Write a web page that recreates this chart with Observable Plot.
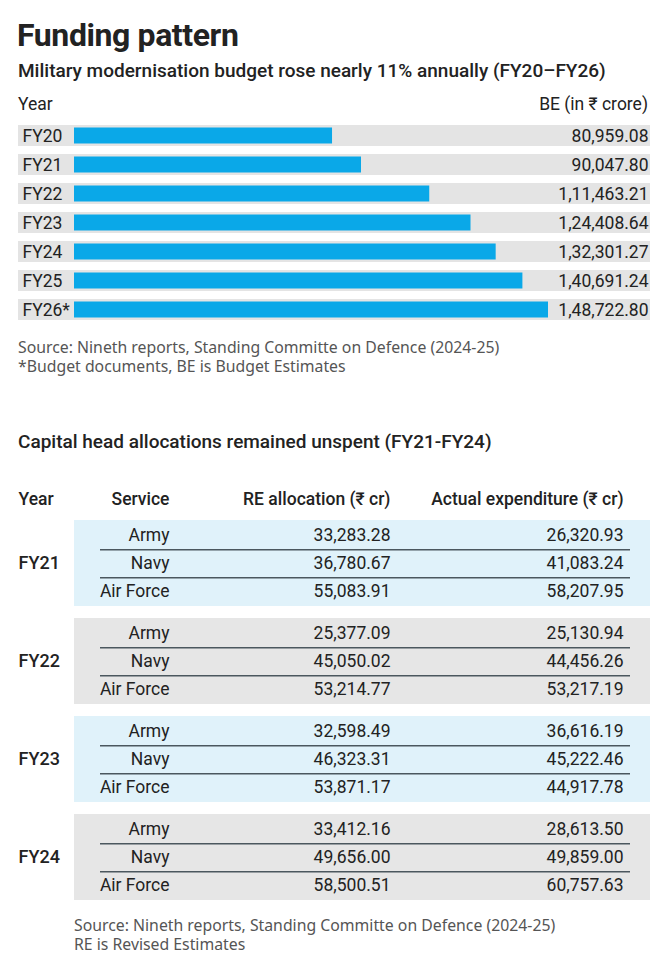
<!DOCTYPE html>
<html><head><meta charset="utf-8">
<script src="https://cdn.jsdelivr.net/npm/d3@7"></script>
<script src="https://cdn.jsdelivr.net/npm/@observablehq/plot@0.6"></script>
<style>
html,body{margin:0;padding:0;background:#fff;overflow:hidden;}
#page{position:relative;width:670px;height:968px;overflow:hidden;font-family:Roboto,"Noto Sans",sans-serif;color:#222;}
.abs{position:absolute;white-space:nowrap;line-height:1;}
.cap{font-family:"Noto Sans",sans-serif;font-size:15.8px;line-height:18.6px;color:#555;}
#bars,#table{position:absolute;left:0;}
#bars{top:110px;} #table{top:478px;}
</style></head>
<body><div id="page">
<div class="abs" style="left:17px;top:19px;font-size:32px;font-weight:700;letter-spacing:-0.4px">Funding pattern</div>
<div class="abs" style="left:18px;top:61px;font-size:19px;font-weight:500">Military modernisation budget rose nearly 11% annually (FY20–FY26)</div>
<div class="abs" style="left:18px;top:96px;font-size:17.5px">Year</div>
<div class="abs" style="right:22px;top:96px;font-size:17.5px">BE (in ₹ crore)</div>
<div id="bars"></div>
<div class="abs cap" style="left:18px;top:338px">Source: Nineth reports, Standing Committe on Defence (2024-25)<br>*Budget documents, BE is Budget Estimates</div>
<div class="abs" style="left:18px;top:432px;font-size:19px;font-weight:500">Capital head allocations remained unspent (FY21-FY24)</div>
<div id="table"></div>
<div class="abs cap" style="left:74px;top:916px">Source: Nineth reports, Standing Committe on Defence (2024-25)<br>RE is Revised Estimates</div>
</div>
<script>
// ---- Data: BE budget (₹ crore)
const budgetYears = ["FY20", "FY21", "FY22", "FY23", "FY24", "FY25", "FY26*"];
const budgetValues = [80959.08, 90047.80, 111463.21, 124408.64, 132301.27, 140691.24, 148722.80];

// ---- Data: capital head allocations (₹ cr)
const tableYears = ["FY21", "FY22", "FY23", "FY24"];
const services = ["Army", "Navy", "Air Force"];
const columns = ["Service", "RE allocation (₹ cr)", "Actual expenditure (₹ cr)"];
const reAllocation = [
  [33283.28, 36780.67, 55083.91],
  [25377.09, 45050.02, 53214.77],
  [32598.49, 46323.31, 53871.17],
  [33412.16, 49656.00, 58500.51]
];
const actualExpenditure = [
  [26320.93, 41083.24, 58207.95],
  [25130.94, 44456.26, 53217.19],
  [36616.19, 45222.46, 44917.78],
  [28613.50, 49859.00, 60757.63]
];

// ---- helpers
function inr(v) {
  const [i, f] = v.toFixed(2).split(".");
  const last3 = i.slice(-3), rest = i.slice(0, -3);
  return (rest ? rest.replace(/\B(?=(\d{2})+(?!\d))/g, ",") + "," : "") + last3 + "." + f;
}
const west = d3.format(",.2f");

const budget = budgetYears.map((year, i) => ({year, value: budgetValues[i]}));
const rows = tableYears.flatMap((year, i) => services.map((service, j) => ({
  year, service, re: reAllocation[i][j], actual: actualExpenditure[i][j]
})));

const BLUE = "#0aa8e8", ROWGRAY = "#e4e4e4";
const BLOCK_BLUE = "#e0f2fa", BLOCK_GRAY = "#e6e6e6";

// ---- Bar chart
const bars = Plot.plot({
  width: 670, height: 225,
  marginLeft: 18, marginRight: 20, marginTop: 4.4, marginBottom: 4.1,
  style: {fontFamily: "Roboto, 'Noto Sans', sans-serif", fontSize: "17.5px", color: "#222", background: "transparent"},
  x: {domain: [0, d3.max(budgetValues)], range: [74, 548], axis: null},
  y: {type: "band", domain: budgetYears, padding: 0.29, axis: null},
  marks: [
    Plot.cell(budget, {y: "year", fill: ROWGRAY, inset: 0}),
    Plot.barX(budget, {x: "value", y: "year", fill: BLUE, insetTop: 2.5, insetBottom: 2.5}),
    Plot.text(budget, {y: "year", text: "year", frameAnchor: "left", textAnchor: "start", dx: 4}),
    Plot.text(budget, {y: "year", text: d => inr(d.value), frameAnchor: "right", textAnchor: "end", dx: -2})
  ]
});
document.getElementById("bars").append(bars);

// ---- Table
const fyStep = 381 / (tableYears.length - 0.125);
const rowH = fyStep * (1 - 0.125) / services.length;
const first = () => tableYears[0];
const HDY = -28;
const table = Plot.plot({
  width: 670, height: 424,
  marginLeft: 74, marginRight: 20, marginTop: 41, marginBottom: 2,
  style: {fontFamily: "Roboto, 'Noto Sans', sans-serif", fontSize: "17.5px", color: "#222", background: "transparent"},
  fy: {domain: tableYears, paddingInner: 0.125, paddingOuter: 0},
  x: {type: "point", domain: columns, range: [168, 623], padding: 0, axis: null},
  y: {type: "band", domain: services, padding: 0, axis: null},
  color: {type: "identity"},
  marks: [
    Plot.rect(tableYears, {fy: d => d, fill: (d, i) => i % 2 ? BLOCK_GRAY : BLOCK_BLUE}),
    Plot.ruleY(rows.filter(d => d.service !== services[services.length - 1]), {
      fy: "year", y: "service", dy: rowH / 2, stroke: "#4b575e", strokeWidth: 1.5, insetLeft: 26, insetRight: 20
    }),
    Plot.text(rows, {fy: "year", y: "service", x: () => columns[0], text: "service", textAnchor: "end"}),
    Plot.text(rows, {fy: "year", y: "service", x: () => columns[1], text: d => west(d.re), textAnchor: "end", dx: -6}),
    Plot.text(rows, {fy: "year", y: "service", x: () => columns[2], text: d => west(d.actual), textAnchor: "end"}),
    // header row
    Plot.text(["Year"], {fy: first, text: d => d, frameAnchor: "top-left", textAnchor: "start", dx: -56, dy: HDY, fontWeight: 500}),
    Plot.text([columns[0]], {fy: first, x: d => d, text: d => d, frameAnchor: "top", textAnchor: "end", dy: HDY, fontWeight: 500}),
    Plot.text([columns[1]], {fy: first, x: d => d, text: d => d, frameAnchor: "top", textAnchor: "end", dx: -6, dy: HDY, fontWeight: 500}),
    Plot.text([columns[2]], {fy: first, x: d => d, text: d => d, frameAnchor: "top", textAnchor: "end", dy: HDY, fontWeight: 500}),
    Plot.axisFy({anchor: "left", tickSize: 0, tickPadding: 56, textAnchor: "start", fontSize: 18, fontWeight: 500, label: null})
  ]
});
document.getElementById("table").append(table);
</script>
</body></html>
